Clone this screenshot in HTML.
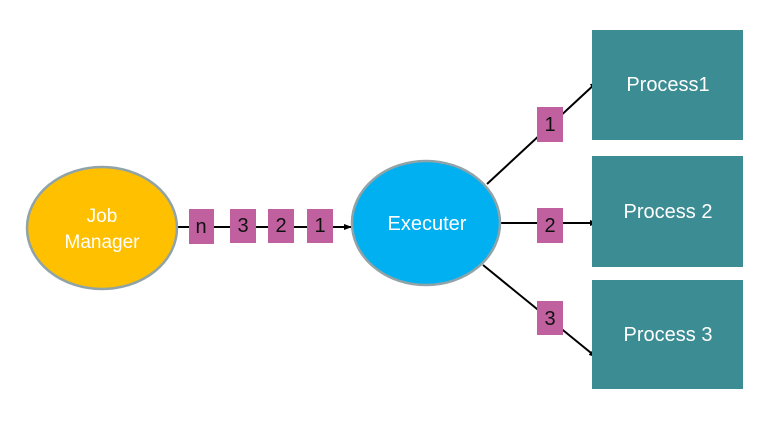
<!DOCTYPE html>
<html><head><style>
body{margin:0;background:#fff}
</style></head><body>
<svg width="771" height="421" xmlns="http://www.w3.org/2000/svg" font-family="Liberation Sans, sans-serif">
<defs><marker id="a" markerWidth="8" markerHeight="8" refX="7" refY="4" orient="auto" markerUnits="userSpaceOnUse"><path d="M0,1 L8,4 L0,7 Z" fill="#000"/></marker></defs>
<rect width="771" height="421" fill="#fff"/>
<line x1="177" y1="227" x2="351" y2="227" stroke="#000" stroke-width="2" marker-end="url(#a)"/>
<line x1="487" y1="184" x2="597" y2="82" stroke="#000" stroke-width="2" marker-end="url(#a)"/>
<line x1="500" y1="223" x2="597" y2="223" stroke="#000" stroke-width="2" marker-end="url(#a)"/>
<line x1="483" y1="265" x2="596" y2="357" stroke="#000" stroke-width="2" marker-end="url(#a)"/>
<ellipse cx="102" cy="228" rx="75" ry="61" fill="#ffc000" stroke="#8fa3a8" stroke-width="2.5"/>
<text x="102" y="222" fill="#fff" font-size="19" text-anchor="middle">Job</text>
<text x="102" y="248" fill="#fff" font-size="19" text-anchor="middle">Manager</text>
<ellipse cx="426" cy="223" rx="74" ry="62" fill="#00b0f0" stroke="#8fa3a8" stroke-width="2.5"/>
<text x="427" y="230" fill="#fff" font-size="20" text-anchor="middle">Executer</text>
<g fill="#c0609f">
<rect x="189" y="209" width="25" height="35"/><rect x="230" y="209" width="26" height="34"/>
<rect x="268" y="209" width="26" height="34"/><rect x="307" y="209" width="26" height="34"/>
<rect x="537" y="107" width="26" height="35"/><rect x="537" y="208" width="26" height="35"/>
<rect x="537" y="301" width="26" height="34"/>
</g>
<g font-size="20" fill="#111" text-anchor="middle">
<text x="201" y="233">n</text><text x="243" y="232">3</text><text x="281" y="232">2</text><text x="320" y="232">1</text>
<text x="550" y="131">1</text><text x="550" y="232">2</text><text x="550" y="325">3</text>
</g>
<g fill="#3c8c93">
<rect x="592" y="30" width="151" height="110"/><rect x="592" y="156" width="151" height="111"/><rect x="592" y="280" width="151" height="109"/>
</g>
<g font-size="20" fill="#fff" text-anchor="middle">
<text x="668" y="91">Process1</text><text x="668" y="218">Process 2</text><text x="668" y="341">Process 3</text>
</g>
</svg>
</body></html>
